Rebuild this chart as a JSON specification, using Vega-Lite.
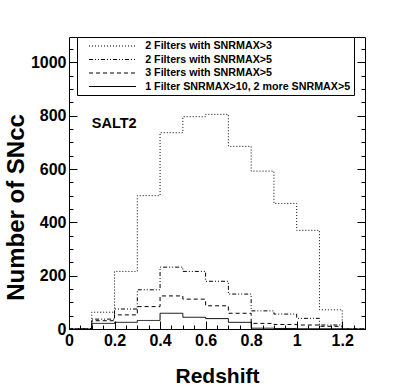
{
  "$schema": "https://vega.github.io/schema/vega-lite/v6.json",
  "width": 296,
  "height": 292,
  "autosize": {"type": "none"},
  "padding": {"left": 69, "top": 37, "right": 42, "bottom": 58},
  "background": "white",
  "config": {
    "font": "Liberation Sans",
    "view": {"stroke": "black", "strokeWidth": 1},
    "axis": {"grid": false, "domain": false, "tickColor": "black", "labelColor": "black", "titleColor": "black", "labelFont": "Liberation Sans", "titleFont": "Liberation Sans"}
  },
  "datasets": {
    "hist": [
      {"series": "2 Filters with SNRMAX>3", "x": 0.0, "n": 0},
      {"series": "2 Filters with SNRMAX>3", "x": 0.1, "n": 63},
      {"series": "2 Filters with SNRMAX>3", "x": 0.2, "n": 216},
      {"series": "2 Filters with SNRMAX>3", "x": 0.3, "n": 500},
      {"series": "2 Filters with SNRMAX>3", "x": 0.4, "n": 736},
      {"series": "2 Filters with SNRMAX>3", "x": 0.5, "n": 796},
      {"series": "2 Filters with SNRMAX>3", "x": 0.6, "n": 805},
      {"series": "2 Filters with SNRMAX>3", "x": 0.7, "n": 685},
      {"series": "2 Filters with SNRMAX>3", "x": 0.8, "n": 592},
      {"series": "2 Filters with SNRMAX>3", "x": 0.9, "n": 471},
      {"series": "2 Filters with SNRMAX>3", "x": 1.0, "n": 370},
      {"series": "2 Filters with SNRMAX>3", "x": 1.1, "n": 72},
      {"series": "2 Filters with SNRMAX>3", "x": 1.2, "n": 0},
      {"series": "2 Filters with SNRMAX>3", "x": 1.3, "n": 0},
      {"series": "2 Filters with SNRMAX>5", "x": 0.0, "n": 0},
      {"series": "2 Filters with SNRMAX>5", "x": 0.1, "n": 37},
      {"series": "2 Filters with SNRMAX>5", "x": 0.2, "n": 75},
      {"series": "2 Filters with SNRMAX>5", "x": 0.3, "n": 147},
      {"series": "2 Filters with SNRMAX>5", "x": 0.4, "n": 232},
      {"series": "2 Filters with SNRMAX>5", "x": 0.5, "n": 216},
      {"series": "2 Filters with SNRMAX>5", "x": 0.6, "n": 179},
      {"series": "2 Filters with SNRMAX>5", "x": 0.7, "n": 131},
      {"series": "2 Filters with SNRMAX>5", "x": 0.8, "n": 68},
      {"series": "2 Filters with SNRMAX>5", "x": 0.9, "n": 56},
      {"series": "2 Filters with SNRMAX>5", "x": 1.0, "n": 40},
      {"series": "2 Filters with SNRMAX>5", "x": 1.1, "n": 15},
      {"series": "2 Filters with SNRMAX>5", "x": 1.2, "n": 0},
      {"series": "2 Filters with SNRMAX>5", "x": 1.3, "n": 0},
      {"series": "3 Filters with SNRMAX>5", "x": 0.0, "n": 0},
      {"series": "3 Filters with SNRMAX>5", "x": 0.1, "n": 31},
      {"series": "3 Filters with SNRMAX>5", "x": 0.2, "n": 53},
      {"series": "3 Filters with SNRMAX>5", "x": 0.3, "n": 84},
      {"series": "3 Filters with SNRMAX>5", "x": 0.4, "n": 124},
      {"series": "3 Filters with SNRMAX>5", "x": 0.5, "n": 112},
      {"series": "3 Filters with SNRMAX>5", "x": 0.6, "n": 87},
      {"series": "3 Filters with SNRMAX>5", "x": 0.7, "n": 59},
      {"series": "3 Filters with SNRMAX>5", "x": 0.8, "n": 21},
      {"series": "3 Filters with SNRMAX>5", "x": 0.9, "n": 17},
      {"series": "3 Filters with SNRMAX>5", "x": 1.0, "n": 15},
      {"series": "3 Filters with SNRMAX>5", "x": 1.1, "n": 10},
      {"series": "3 Filters with SNRMAX>5", "x": 1.2, "n": 0},
      {"series": "3 Filters with SNRMAX>5", "x": 1.3, "n": 0},
      {"series": "1 Filter SNRMAX>10, 2 more SNRMAX>5", "x": 0.0, "n": 0},
      {"series": "1 Filter SNRMAX>10, 2 more SNRMAX>5", "x": 0.1, "n": 21},
      {"series": "1 Filter SNRMAX>10, 2 more SNRMAX>5", "x": 0.2, "n": 25},
      {"series": "1 Filter SNRMAX>10, 2 more SNRMAX>5", "x": 0.3, "n": 32},
      {"series": "1 Filter SNRMAX>10, 2 more SNRMAX>5", "x": 0.4, "n": 59},
      {"series": "1 Filter SNRMAX>10, 2 more SNRMAX>5", "x": 0.5, "n": 44},
      {"series": "1 Filter SNRMAX>10, 2 more SNRMAX>5", "x": 0.6, "n": 39},
      {"series": "1 Filter SNRMAX>10, 2 more SNRMAX>5", "x": 0.7, "n": 25},
      {"series": "1 Filter SNRMAX>10, 2 more SNRMAX>5", "x": 0.8, "n": 3},
      {"series": "1 Filter SNRMAX>10, 2 more SNRMAX>5", "x": 0.9, "n": 2},
      {"series": "1 Filter SNRMAX>10, 2 more SNRMAX>5", "x": 1.0, "n": 1},
      {"series": "1 Filter SNRMAX>10, 2 more SNRMAX>5", "x": 1.1, "n": 1},
      {"series": "1 Filter SNRMAX>10, 2 more SNRMAX>5", "x": 1.2, "n": 0},
      {"series": "1 Filter SNRMAX>10, 2 more SNRMAX>5", "x": 1.3, "n": 0}
    ],
    "notes": [{"x": 0.1, "y": 767, "label": "SALT2"}]
  },
  "resolve": {"axis": {"x": "independent", "y": "independent"}},
  "layer": [
    {
      "data": {"name": "hist"},
      "mark": {"type": "line", "interpolate": "step-after", "color": "black", "strokeCap": "butt", "clip": true},
      "encoding": {
        "x": {
          "field": "x", "type": "quantitative",
          "scale": {"domain": [0, 1.3], "nice": false, "zero": false},
          "axis": {
            "orient": "bottom", "values": [0, 0.2, 0.4, 0.6, 0.8, 1, 1.2], "format": "~g",
            "tickSize": -8, "labelPadding": 11, "labelFontSize": 16, "labelFontWeight": "bold",
            "labelFlush": false, "labelOverlap": false,
            "title": "Redshift", "titleFontSize": 21, "titleFontWeight": "bold",
            "titleX": 148, "titleY": 47, "titleAlign": "center", "titleBaseline": "middle"
          }
        },
        "y": {
          "field": "n", "type": "quantitative",
          "scale": {"domain": [0, 1095], "nice": false},
          "axis": {
            "orient": "left", "values": [0, 200, 400, 600, 800, 1000], "format": "d",
            "tickSize": -8, "labelPadding": 11, "labelFontSize": 16, "labelFontWeight": "bold",
            "labelFlush": false, "labelOverlap": false,
            "title": "Number of SNcc", "titleFontSize": 24, "titleFontWeight": "bold",
            "titleX": -53, "titleY": 170, "titleAngle": -90, "titleAlign": "center", "titleBaseline": "middle"
          }
        },
        "strokeDash": {
          "field": "series", "type": "nominal",
          "scale": {
            "domain": ["2 Filters with SNRMAX>3", "2 Filters with SNRMAX>5", "3 Filters with SNRMAX>5", "1 Filter SNRMAX>10, 2 more SNRMAX>5"],
            "range": [[1, 2], [4, 2, 1, 2, 1, 2], [4, 3], [1, 0]]
          },
          "legend": {
            "orient": "none", "legendX": 8, "legendY": 0, "title": null,
            "symbolType": "M-1,0H8.4", "symbolSize": 100, "symbolStrokeColor": "black", "symbolFillColor": "transparent",
            "labelFont": "Liberation Sans", "labelFontSize": 10.7, "labelFontWeight": "bold", "labelColor": "black",
            "strokeColor": "black", "fillColor": "white", "padding": 3.5,
            "symbolOffset": 8, "labelOffset": 45.7, "rowPadding": 1.5, "labelLimit": 300
          }
        },
        "strokeWidth": {
          "field": "series", "type": "nominal",
          "scale": {
            "domain": ["2 Filters with SNRMAX>3", "2 Filters with SNRMAX>5", "3 Filters with SNRMAX>5", "1 Filter SNRMAX>10, 2 more SNRMAX>5"],
            "range": [1, 1, 1, 2]
          }
        }
      }
    },
    {
      "data": {"name": "hist"},
      "mark": {"type": "point", "opacity": 0},
      "encoding": {
        "x": {
          "field": "x", "type": "quantitative",
          "scale": {"domain": [0, 1.3], "nice": false, "zero": false},
          "axis": {"orient": "bottom", "values": [0, 0.05, 0.1, 0.15, 0.2, 0.25, 0.3, 0.35, 0.4, 0.45, 0.5, 0.55, 0.6, 0.65, 0.7, 0.75, 0.8, 0.85, 0.9, 0.95, 1, 1.05, 1.1, 1.15, 1.2, 1.25], "tickSize": -4, "labels": false, "title": null}
        },
        "y": {
          "field": "n", "type": "quantitative",
          "scale": {"domain": [0, 1095], "nice": false},
          "axis": {"orient": "left", "values": [0, 50, 100, 150, 200, 250, 300, 350, 400, 450, 500, 550, 600, 650, 700, 750, 800, 850, 900, 950, 1000, 1050], "tickSize": -4, "labels": false, "title": null}
        }
      }
    },
    {
      "data": {"name": "hist"},
      "mark": {"type": "point", "opacity": 0},
      "encoding": {
        "x": {"field": "x", "type": "quantitative", "scale": {"domain": [0, 1.3], "nice": false, "zero": false}, "axis": null},
        "y": {
          "field": "n", "type": "quantitative",
          "scale": {"domain": [0, 1095], "nice": false},
          "axis": {"orient": "right", "values": [0, 200, 400, 600, 800, 1000], "tickSize": -8, "labels": false, "title": null}
        }
      }
    },
    {
      "data": {"name": "hist"},
      "mark": {"type": "point", "opacity": 0},
      "encoding": {
        "x": {"field": "x", "type": "quantitative", "scale": {"domain": [0, 1.3], "nice": false, "zero": false}, "axis": null},
        "y": {
          "field": "n", "type": "quantitative",
          "scale": {"domain": [0, 1095], "nice": false},
          "axis": {"orient": "right", "values": [0, 50, 100, 150, 200, 250, 300, 350, 400, 450, 500, 550, 600, 650, 700, 750, 800, 850, 900, 950, 1000, 1050], "tickSize": -4, "labels": false, "title": null}
        }
      }
    },
    {
      "data": {"name": "notes"},
      "mark": {"type": "text", "align": "left", "baseline": "middle", "fontSize": 14.5, "fontWeight": "bold", "color": "black", "font": "Liberation Sans"},
      "encoding": {
        "x": {"field": "x", "type": "quantitative", "scale": {"domain": [0, 1.3], "nice": false, "zero": false}, "axis": null},
        "y": {"field": "y", "type": "quantitative", "scale": {"domain": [0, 1095], "nice": false}, "axis": null},
        "text": {"field": "label"}
      }
    }
  ]
}
